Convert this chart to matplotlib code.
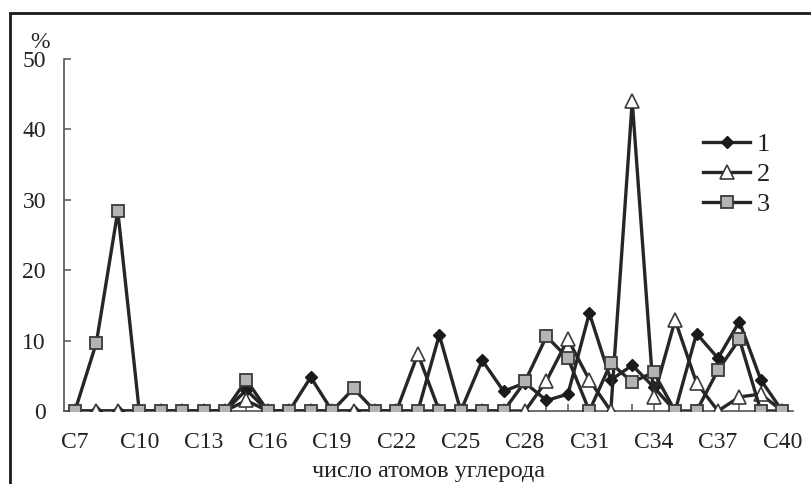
import matplotlib
matplotlib.use("Agg")
import matplotlib.pyplot as plt
from matplotlib.patches import Rectangle
from matplotlib.lines import Line2D

carbons = list(range(7, 41))
tick_positions = list(range(7, 41, 3))
tick_labels = ["C%d" % c for c in tick_positions]

s1 = [0, 0, 0, 0, 0, 0, 0, 0, 3.0, 0, 0, 4.8, 0, 0, 0, 0, 0, 10.8, 0, 7.2,
      2.8, 4.0, 1.5, 2.4, 13.9, 4.4, 6.5, 3.4, 0, 11.0, 7.5, 12.7, 4.4, 0]
s2 = [0, 0, 0, 0, 0, 0, 0, 0, 1.5, 0, 0, 0, 0, 0, 0, 0, 8.1, 0, 0, 0,
      0, 0, 4.3, 10.2, 4.4, 0, 44.0, 2.0, 12.9, 4.0, 0, 2.0, 2.4, 0]
s3 = [0, 9.7, 28.4, 0, 0, 0, 0, 0, 4.4, 0, 0, 0, 0, 3.2, 0, 0, 0, 0, 0, 0,
      0, 4.2, 10.6, 7.5, 0, 6.8, 4.1, 5.5, 0, 0, 5.8, 10.2, 0, 0]
series_labels = ["1", "2", "3"]

plt.rcParams['font.family'] = ['Liberation Serif', 'DejaVu Serif']

W, H = 811, 484
fig = plt.figure(figsize=(W / 100, H / 100), dpi=100)
ax = fig.add_axes([64 / W, (H - 411) / H, (793 - 64) / W, (411 - 59) / H])

lc = '#262626'
lw = 2.4
st1 = dict(color=lc, lw=lw, marker='D', ms=6.5, mfc='#1a1a1a', mec='#1a1a1a')
st2 = dict(color=lc, lw=lw, marker='^', ms=9.5, mfc='white', mec='#3a3a3a', mew=1.2)
st3 = dict(color=lc, lw=lw, marker='s', ms=8.5, mfc='#b4b4b4', mec='#3a3a3a', mew=1.3)

ax.plot(carbons, s1, label=series_labels[0], zorder=3, **st1)
ax.plot(carbons, s2, label=series_labels[1], zorder=4, **st2)
ax.plot(carbons, s3, label=series_labels[2], zorder=5, **st3)

ax.set_xlim(6.49, 40.5)
ax.set_ylim(0, 50)
ax.set_yticks([0, 10, 20, 30, 40, 50])
ax.set_xticks(tick_positions)
ax.set_xticklabels(tick_labels)
ax.set_xticks(carbons, minor=True)
for s in ['top', 'right']:
    ax.spines[s].set_visible(False)
for s in ['left', 'bottom']:
    ax.spines[s].set_color('#555555')
    ax.spines[s].set_linewidth(1.2)
ax.tick_params(axis='both', direction='in', length=5, width=1.1,
               color='#555555', labelsize=17, labelcolor='#222222')
ax.tick_params(axis='y', pad=13)
ax.tick_params(axis='x', pad=15)
ax.tick_params(axis='x', which='minor', direction='in', length=5, width=1.1,
               color='#555555')

ax.set_xlabel("число атомов углерода", fontsize=17.5, color='#222222', labelpad=6)
fig.text(40 / W, 1 - 43 / H, "%", fontsize=17, color='#222222',
         ha='center', va='center')

h1 = Line2D([], [], **st1)
h2 = Line2D([], [], **st2)
h3 = Line2D([], [], **st3)
leg = ax.legend([h1, h2, h3], series_labels, loc='upper left',
                bbox_to_anchor=(679 / W, 1 - 109 / H), bbox_transform=fig.transFigure,
                frameon=False, fontsize=19, handlelength=1.8, handletextpad=0.25,
                labelspacing=0.25, labelcolor='#222222')

fig.patches.append(Rectangle((10 / W, -0.1), 1.2, 1 - 13 / H + 0.1, transform=fig.transFigure,
                             fill=False, edgecolor='#1a1a1a', lw=2, figure=fig))

fig.savefig("out.png", dpi=100)
